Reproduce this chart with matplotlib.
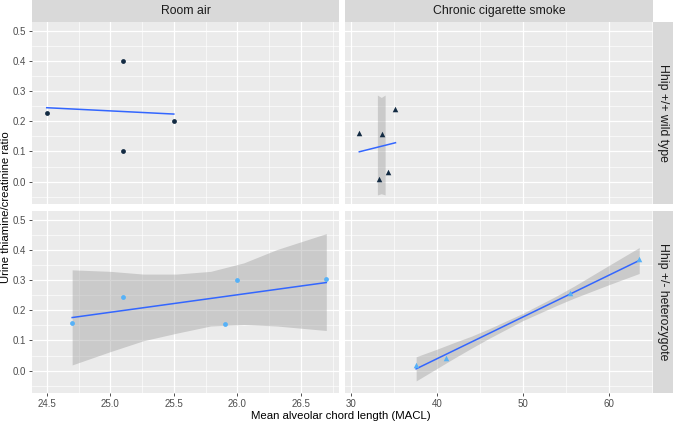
import numpy as np
import matplotlib
matplotlib.use('Agg')
import matplotlib.pyplot as plt
from matplotlib.ticker import MultipleLocator, FormatStrFormatter

plt.rcParams['font.family'] = ['Liberation Sans', 'DejaVu Sans']

# Facet labels
col_labels = ['Room air', 'Chronic cigarette smoke']
row_labels = ['Hhip +/+ wild type', 'Hhip +/- heterozygote']

# Points
ra_wt_x = [24.5, 25.1, 25.1, 25.5]
ra_wt_y = [0.228, 0.40, 0.10, 0.20]
cs_wt_x = [31.0, 33.6, 35.2, 34.3, 33.25]
cs_wt_y = [0.161, 0.157, 0.242, 0.032, 0.009]
ra_het_x = [24.7, 25.1, 25.9, 26.0, 26.7]
ra_het_y = [0.159, 0.245, 0.156, 0.302, 0.305]
cs_het_x = [37.6, 41.1, 55.5, 63.5]
cs_het_y = [0.020, 0.043, 0.257, 0.371]

# Fitted lines (end points)
ra_wt_fit_x = [24.5, 25.5]
ra_wt_fit_y = [0.245, 0.224]
cs_wt_fit_x = [31.0, 35.2]
cs_wt_fit_y = [0.099, 0.129]
ra_het_fit_x = [24.7, 26.7]
ra_het_fit_y = [0.176, 0.292]
cs_het_fit_x = [37.6, 63.5]
cs_het_fit_y = [0.006, 0.365]

# Confidence bands (what is visible after clipping)
cs_wt_band_x = [33.1, 33.55, 34.0]
cs_wt_band_lo = [-0.044, -0.040, -0.044]
cs_wt_band_hi = [0.287, 0.279, 0.287]
ra_het_band_x = [24.7, 25.0, 25.26, 25.52, 25.79, 26.05, 26.31, 26.7]
ra_het_band_lo = [0.019, 0.063, 0.099, 0.124, 0.148, 0.153, 0.148, 0.133]
ra_het_band_hi = [0.334, 0.329, 0.320, 0.320, 0.329, 0.357, 0.401, 0.454]
cs_het_band_x = [37.6, 40, 42, 44, 46, 50, 54, 56, 58, 60, 63.5]
cs_het_band_mid = [0.006, 0.039, 0.067, 0.094, 0.122, 0.178, 0.233, 0.261, 0.289, 0.317, 0.365]
cs_het_band_half = [0.040, 0.032, 0.026, 0.020, 0.016, 0.012, 0.016, 0.020, 0.026, 0.032, 0.043]

W, H = 675, 424
fig = plt.figure(figsize=(W / 100, H / 100), dpi=100)
fig.patch.set_facecolor('white')

col_px = [(32, 339), (345, 653)]
row_px = [(22, 204), (211, 393)]
xlims = [(24.384, 26.80), (29.34, 65.1)]
ylim = (-0.074, 0.529)

def px_box(x0, x1, y0, y1):
    return [x0 / W, 1 - y1 / H, (x1 - x0) / W, (y1 - y0) / H]

def style(ax, ci, ri):
    ax.set_facecolor('#EBEBEB')
    for s in ax.spines.values():
        s.set_visible(False)
    ax.set_xlim(*xlims[ci])
    ax.set_ylim(*ylim)
    ax.yaxis.set_major_locator(MultipleLocator(0.1))
    ax.yaxis.set_minor_locator(MultipleLocator(0.05))
    if ci == 0:
        ax.xaxis.set_major_locator(MultipleLocator(0.5))
        ax.xaxis.set_minor_locator(MultipleLocator(0.25))
        ax.xaxis.set_major_formatter(FormatStrFormatter('%.1f'))
    else:
        ax.xaxis.set_major_locator(MultipleLocator(10))
        ax.xaxis.set_minor_locator(MultipleLocator(5))
    ax.yaxis.set_major_formatter(FormatStrFormatter('%.1f'))
    ax.grid(which='major', color='white', lw=0.9)
    ax.grid(which='minor', color='white', lw=0.45)
    ax.set_axisbelow(True)
    ax.tick_params(which='minor', length=0)
    ax.tick_params(which='major', length=2.5, width=0.6, color='#333333',
                   labelsize=7, labelcolor='#4D4D4D', pad=1.5)
    ax.tick_params(axis='x', bottom=(ri == 1), labelbottom=(ri == 1))
    ax.tick_params(axis='y', left=(ci == 0), labelleft=(ci == 0))

axes = {}
for ri, (y0, y1) in enumerate(row_px):
    for ci, (x0, x1) in enumerate(col_px):
        ax = fig.add_axes(px_box(x0, x1, y0, y1))
        style(ax, ci, ri)
        axes[(ri, ci)] = ax

line_c = '#3366FF'
band_kw = dict(color='#999999', alpha=0.4, lw=0)
dark = '#132B43'
light = '#56B1F7'

ax = axes[(0, 0)]
ax.plot(ra_wt_fit_x, ra_wt_fit_y, color=line_c, lw=1.1, zorder=3)
ax.scatter(ra_wt_x, ra_wt_y, s=12, color=dark, marker='o', zorder=4, lw=0)

ax = axes[(0, 1)]
ax.fill_between(cs_wt_band_x, cs_wt_band_lo, cs_wt_band_hi, **band_kw)
ax.plot(cs_wt_fit_x, cs_wt_fit_y, color=line_c, lw=1.1, zorder=3)
ax.scatter(cs_wt_x, cs_wt_y, s=16, color=dark, marker='^', zorder=4, lw=0)

ax = axes[(1, 0)]
ax.fill_between(ra_het_band_x, ra_het_band_lo, ra_het_band_hi, **band_kw)
ax.plot(ra_het_fit_x, ra_het_fit_y, color=line_c, lw=1.1, zorder=3)
ax.scatter(ra_het_x, ra_het_y, s=12, color=light, marker='o', zorder=4, lw=0)

ax = axes[(1, 1)]
mid = np.array(cs_het_band_mid)
half = np.array(cs_het_band_half)
ax.fill_between(cs_het_band_x, mid - half, mid + half, **band_kw)
ax.plot(cs_het_fit_x, cs_het_fit_y, color=line_c, lw=1.1, zorder=3)
ax.scatter(cs_het_x, cs_het_y, s=16, color=light, marker='^', zorder=4, lw=0)

# Strips
for ci, (x0, x1) in enumerate(col_px):
    sax = fig.add_axes(px_box(x0, x1, 0, 22))
    sax.set_facecolor('#D9D9D9')
    sax.set_xticks([]); sax.set_yticks([])
    for s in sax.spines.values():
        s.set_visible(False)
    sax.text(0.5, 0.5, col_labels[ci], ha='center', va='center',
             fontsize=8.8, color='#1A1A1A', transform=sax.transAxes)

for ri, (y0, y1) in enumerate(row_px):
    sax = fig.add_axes(px_box(653, 673, y0, y1))
    sax.set_facecolor('#D9D9D9')
    sax.set_xticks([]); sax.set_yticks([])
    for s in sax.spines.values():
        s.set_visible(False)
    sax.text(0.5, 0.5, row_labels[ri], ha='center', va='center', rotation=-90,
             fontsize=8.8, color='#1A1A1A', transform=sax.transAxes)

fig.text(341 / W, 1 - 416 / H, 'Mean alveolar chord length (MACL)', ha='center',
         va='center', fontsize=8.2, color='#000000')
fig.text(6 / W, 1 - 207 / H, 'Urine thiamine/creatinine ratio', ha='center',
         va='center', rotation=90, fontsize=8.2, color='#000000')

fig.savefig('out.png', dpi=100)
